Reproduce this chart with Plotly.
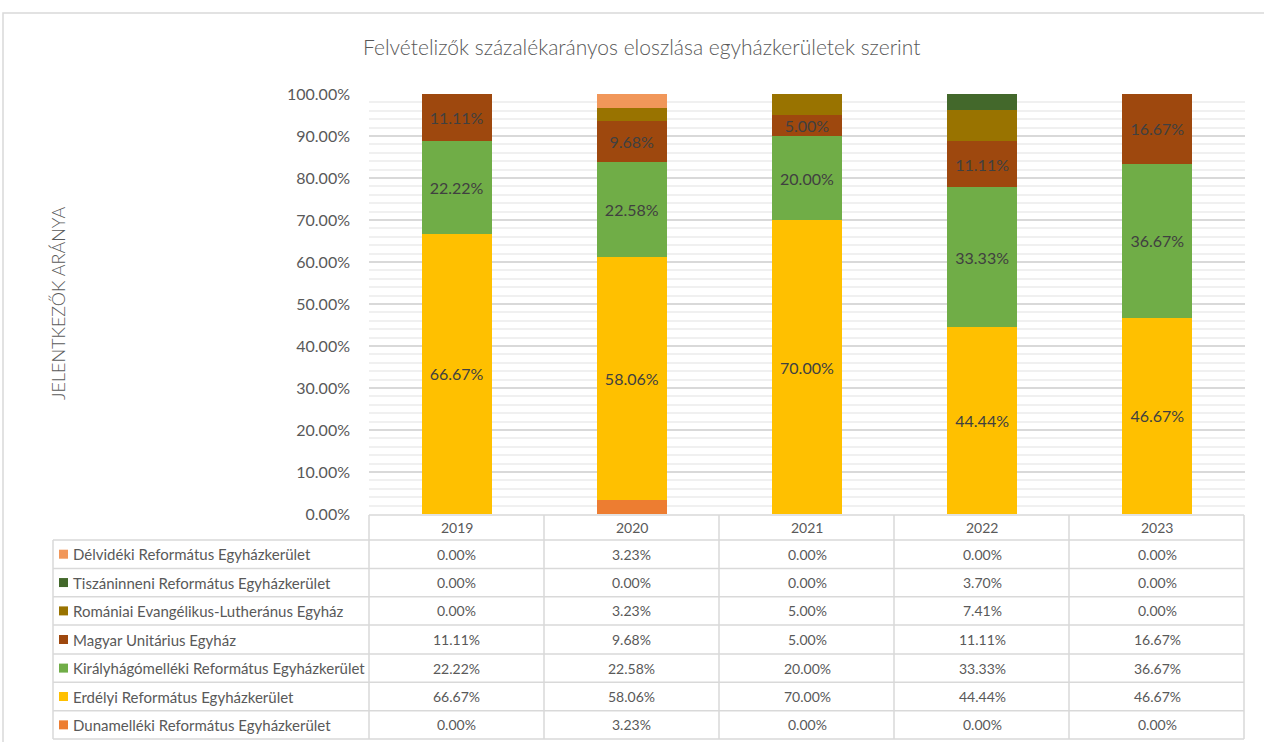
import plotly.graph_objects as go

W, H = 1264, 742

years = ["2019", "2020", "2021", "2022", "2023"]

# series in stacking order (bottom -> top)
dunamelleki = [0.0, 3.23, 0.0, 0.0, 0.0]
erdelyi = [66.67, 58.06, 70.00, 44.44, 46.67]
kiralyhago = [22.22, 22.58, 20.00, 33.33, 36.67]
unitarius = [11.11, 9.68, 5.00, 11.11, 16.67]
romaniai = [0.0, 3.23, 5.00, 7.41, 0.0]
tiszaninneni = [0.0, 0.0, 0.0, 3.70, 0.0]
delvideki = [0.0, 3.23, 0.0, 0.0, 0.0]

series = [
    ("Dunamelléki Református Egyházkerület", dunamelleki, "#ED7D31", False),
    ("Erdélyi Református Egyházkerület", erdelyi, "#FFC000", True),
    ("Királyhágómelléki Református Egyházkerület", kiralyhago, "#70AD47", True),
    ("Magyar Unitárius Egyház", unitarius, "#9E480E", True),
    ("Romániai Evangélikus-Lutheránus Egyház", romaniai, "#997300", False),
    ("Tiszáninneni Református Egyházkerület", tiszaninneni, "#43682B", False),
    ("Délvidéki Református Egyházkerület", delvideki, "#F1975A", False),
]

title = "Felvételizők százalékarányos eloszlása egyházkerületek szerint"
y_title = "JELENTKEZŐK ARÁNYA"

FONT = "Lato"
GREY = "#595959"


def px_x(p):
    return p / W


def px_y(p):
    return 1 - p / H


plot_left, plot_right = 369, 1245
plot_top, plot_bottom = 94, 514

fig = go.Figure()
for name, vals, color, lab in series:
    fig.add_trace(go.Bar(
        x=years, y=[v / 100 for v in vals], name=name,
        marker=dict(color=color, line=dict(width=0)),
        width=0.4,
        text=[f"{v:.2f}%" for v in vals] if lab else None,
        textposition="inside" if lab else "none",
        insidetextanchor="middle",
        textangle=0,
        constraintext="none",
        textfont=dict(family=FONT, size=16, color="#404040"),
        hoverinfo="skip",
        showlegend=False,
    ))

shapes = []
annotations = []

# outer chart border
shapes.append(dict(type="rect", xref="paper", yref="paper",
                   x0=px_x(3), x1=px_x(1275), y0=px_y(760), y1=px_y(13),
                   line=dict(color="#D9D9D9", width=1.5), layer="below"))

# table geometry
col_edges = [369, 544, 719, 894, 1069, 1244]
row_edges = [540, 568.4, 596.7, 625.1, 653.9, 682.3, 710.7, 739]
header_top = 515
label_left = 53
line_col = "#D9D9D9"

shapes.append(dict(type="line", xref="paper", yref="paper",
                   x0=px_x(col_edges[0]), x1=px_x(col_edges[-1]),
                   y0=px_y(header_top), y1=px_y(header_top),
                   line=dict(color=line_col, width=1.5)))
for r in row_edges:
    shapes.append(dict(type="line", xref="paper", yref="paper",
                       x0=px_x(label_left), x1=px_x(col_edges[-1]),
                       y0=px_y(r), y1=px_y(r),
                       line=dict(color=line_col, width=1.5)))
for c in col_edges:
    shapes.append(dict(type="line", xref="paper", yref="paper",
                       x0=px_x(c), x1=px_x(c),
                       y0=px_y(header_top), y1=px_y(row_edges[-1]),
                       line=dict(color=line_col, width=1.5)))
shapes.append(dict(type="line", xref="paper", yref="paper",
                   x0=px_x(label_left), x1=px_x(label_left),
                   y0=px_y(row_edges[0]), y1=px_y(row_edges[-1]),
                   line=dict(color=line_col, width=1.5)))

# header years (category axis -> positions by index)
for i, yr in enumerate(years):
    annotations.append(dict(x=i, xref="x", y=px_y((header_top + row_edges[0]) / 2),
                            yref="paper", text=yr, showarrow=False,
                            xanchor="center", yanchor="middle",
                            font=dict(family=FONT, size=14, color=GREY)))

# table rows (top row = last series)
for ri, (name, vals, color, lab) in enumerate(reversed(series)):
    yc = (row_edges[ri] + row_edges[ri + 1]) / 2
    shapes.append(dict(type="rect", xref="paper", yref="paper",
                       x0=px_x(59), x1=px_x(68), y0=px_y(yc + 4.5), y1=px_y(yc - 4.5),
                       fillcolor=color, line=dict(width=0)))
    annotations.append(dict(x=px_x(71), xref="paper", y=px_y(yc), yref="paper",
                            text=name, showarrow=False, xanchor="left", yanchor="middle",
                            font=dict(family=FONT, size=15, color=GREY)))
    for i, v in enumerate(vals):
        annotations.append(dict(x=i, xref="x", y=px_y(yc), yref="paper",
                                text=f"{v:.2f}%", showarrow=False,
                                xanchor="center", yanchor="middle",
                                font=dict(family=FONT, size=14, color=GREY)))

# title
annotations.append(dict(x=px_x(641), xref="paper", y=px_y(47), yref="paper",
                        text=title, showarrow=False, xanchor="center", yanchor="middle",
                        font=dict(family=FONT, size=21, color=GREY, weight=300)))
# y axis title
annotations.append(dict(x=px_x(58), xref="paper", y=px_y((plot_top + plot_bottom) / 2),
                        yref="paper", text=y_title, showarrow=False, textangle=-90,
                        xanchor="center", yanchor="middle",
                        font=dict(family=FONT, size=18, color=GREY, weight=300)))

fig.update_layout(
    template="none",
    width=W, height=H,
    autosize=False,
    margin=dict(l=0, r=0, t=0, b=0, pad=0, autoexpand=False),
    paper_bgcolor="white", plot_bgcolor="white",
    barmode="stack",
    bargap=0.6,
    shapes=shapes,
    annotations=annotations,
    xaxis=dict(type="category", categoryorder="array", categoryarray=years,
               domain=[px_x(plot_left), px_x(plot_right)], range=[-0.5, 4.5],
               showticklabels=False, showgrid=False, zeroline=False, showline=False,
               ticks="", automargin=False),
    yaxis=dict(domain=[px_y(plot_bottom), px_y(plot_top)], range=[0, 1],
               tickvals=[i / 10 for i in range(11)],
               ticktext=[f"{i*10:.2f}%" for i in range(11)],
               tickfont=dict(family=FONT, size=16, color=GREY),
               ticks="", ticklabelstandoff=18, automargin=False,
               showgrid=True, gridcolor="#D9D9D9", gridwidth=1.5,
               minor=dict(dtick=0.02, showgrid=True, gridcolor="#F0F0F0", gridwidth=1.5),
               zeroline=False, showline=False),
    font=dict(family=FONT),
)

fig.write_html(
    "out.html",
    config={"displayModeBar": False},
    post_script="document.body.style.margin='0';document.body.style.overflow='hidden';",
)
